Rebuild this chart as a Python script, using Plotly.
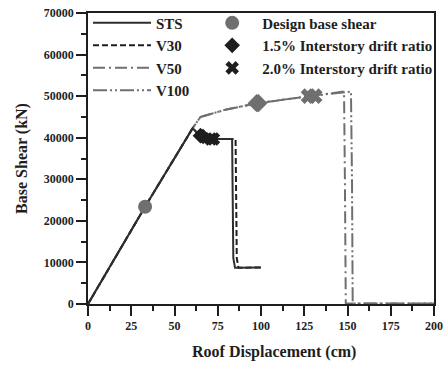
import plotly.graph_objects as go

# ---- data ----
sts_x = [0, 33, 60.5, 63, 66, 71, 83.3, 83.6, 84.0, 85.0, 100]
sts_y = [0, 23400, 42300, 41200, 40300, 39700, 39700, 30000, 11000, 8700, 8800]

v30_x = [0, 33, 60.5, 63, 66, 72, 85.3, 85.6, 86.0, 87.0, 100]
v30_y = [0, 23400, 42300, 41200, 40300, 39700, 39700, 30000, 11000, 8700, 8800]

v50_x = [0, 33, 60.5, 65, 80, 98, 128, 148, 148.5, 149, 200]
v50_y = [0, 23400, 42300, 45000, 46800, 48300, 50000, 51100, 30000, 150, 150]

v100_x = [0, 33, 60.5, 65, 80, 98, 128, 152, 152.6, 153, 200]
v100_y = [0, 23400, 42300, 45000, 46800, 48300, 50000, 51100, 30000, 150, 150]

design_x = [33]
design_y = [23400]

drift15_sts_x = [65, 66.5]
drift15_sts_y = [40500, 40300]
drift15_v_x = [97.5, 98.5]
drift15_v_y = [48300, 48300]

drift20_sts_x = [71, 72.5]
drift20_sts_y = [39700, 39700]
drift20_v_x = [127.5, 131]
drift20_v_y = [50000, 50000]

x_ticks = [0, 25, 50, 75, 100, 125, 150, 175, 200]
x_minor = [12.5, 37.5, 62.5, 87.5, 112.5, 137.5, 162.5, 187.5]
y_ticks = [0, 10000, 20000, 30000, 40000, 50000, 60000, 70000]
y_minor = [5000, 15000, 25000, 35000, 45000, 55000, 65000]

BLACK = "#1e1e1e"
DARK = "#2e2e2e"
GRAY = "#6f6f6f"
FONT = "Liberation Serif"

fig = go.Figure()

# curves (drawn back to front)
fig.add_trace(go.Scatter(x=v100_x, y=v100_y, mode="lines", name="V100",
                         line=dict(color=GRAY, width=2, dash="14px,3px,2px,3px,2px,3px"),
                         legend="legend"))
fig.add_trace(go.Scatter(x=v50_x, y=v50_y, mode="lines", name="V50",
                         line=dict(color=GRAY, width=2, dash="12px,4px,2px,4px"),
                         legend="legend"))
fig.add_trace(go.Scatter(x=v30_x, y=v30_y, mode="lines", name="V30",
                         line=dict(color=BLACK, width=2, dash="6px,3px"),
                         legend="legend"))
fig.add_trace(go.Scatter(x=sts_x, y=sts_y, mode="lines", name="STS",
                         line=dict(color=DARK, width=2),
                         legend="legend"))

# markers
fig.add_trace(go.Scatter(x=design_x, y=design_y, mode="markers", name="Design base shear",
                         marker=dict(symbol="circle", size=14, color=GRAY),
                         legend="legend2"))
fig.add_trace(go.Scatter(x=drift15_sts_x, y=drift15_sts_y, mode="markers",
                         name="1.5% Interstory drift ratio",
                         marker=dict(symbol="diamond", size=12, color=BLACK),
                         legend="legend2"))
fig.add_trace(go.Scatter(x=drift15_v_x, y=drift15_v_y, mode="markers",
                         name="1.5% Interstory drift ratio", showlegend=False,
                         marker=dict(symbol="diamond", size=14, color=GRAY)))
fig.add_trace(go.Scatter(x=drift20_sts_x, y=drift20_sts_y, mode="markers",
                         name="2.0% Interstory drift ratio",
                         marker=dict(symbol="x", size=12, color=BLACK),
                         legend="legend2"))
fig.add_trace(go.Scatter(x=drift20_v_x, y=drift20_v_y, mode="markers",
                         name="2.0% Interstory drift ratio", showlegend=False,
                         marker=dict(symbol="x", size=14, color=GRAY)))

axis_common = dict(
    showline=True, linecolor=BLACK, linewidth=1.5, mirror=True,
    ticks="outside", ticklen=10, tickwidth=1.5, tickcolor=BLACK,
    showgrid=False, zeroline=False,
    tickfont=dict(family=FONT, size=12, color=BLACK, weight="bold"),
)

fig.update_xaxes(
    range=[0, 200], tickvals=x_ticks, ticktext=[str(v) for v in x_ticks],
    minor=dict(tickvals=x_minor, ticks="outside", ticklen=5, tickwidth=1.5, tickcolor=BLACK),
    **axis_common,
)
fig.update_yaxes(
    range=[0, 70000], tickvals=y_ticks, ticktext=[str(v) for v in y_ticks],
    minor=dict(tickvals=y_minor, ticks="outside", ticklen=5, tickwidth=1.5, tickcolor=BLACK),
    title=dict(text="Base Shear (kN)",
               font=dict(family=FONT, size=16, color=BLACK, weight="bold"), standoff=12),
    **axis_common,
)

fig.add_annotation(text="Roof Displacement (cm)", xref="paper", yref="paper",
                   x=0.537, y=-0.165, xanchor="center", yanchor="middle", showarrow=False,
                   font=dict(family=FONT, size=16, color=BLACK, weight="bold"))

legend_font = dict(family=FONT, size=15, color=BLACK, weight="bold")
fig.update_layout(
    width=443, height=365,
    margin=dict(l=88, r=9, t=13, b=61, autoexpand=False),
    paper_bgcolor="white", plot_bgcolor="white",
    font=dict(family=FONT, color=BLACK),
    legend=dict(x=0.0, y=1.022, xanchor="left", yanchor="top", traceorder="reversed",
                font=legend_font, bgcolor="rgba(0,0,0,0)", itemwidth=58,
                tracegroupgap=0),
    legend2=dict(x=0.33, y=1.022, xanchor="left", yanchor="top", traceorder="normal",
                 font=legend_font, bgcolor="rgba(0,0,0,0)", itemwidth=50,
                 tracegroupgap=0),
)

fig.write_html("out.html")
